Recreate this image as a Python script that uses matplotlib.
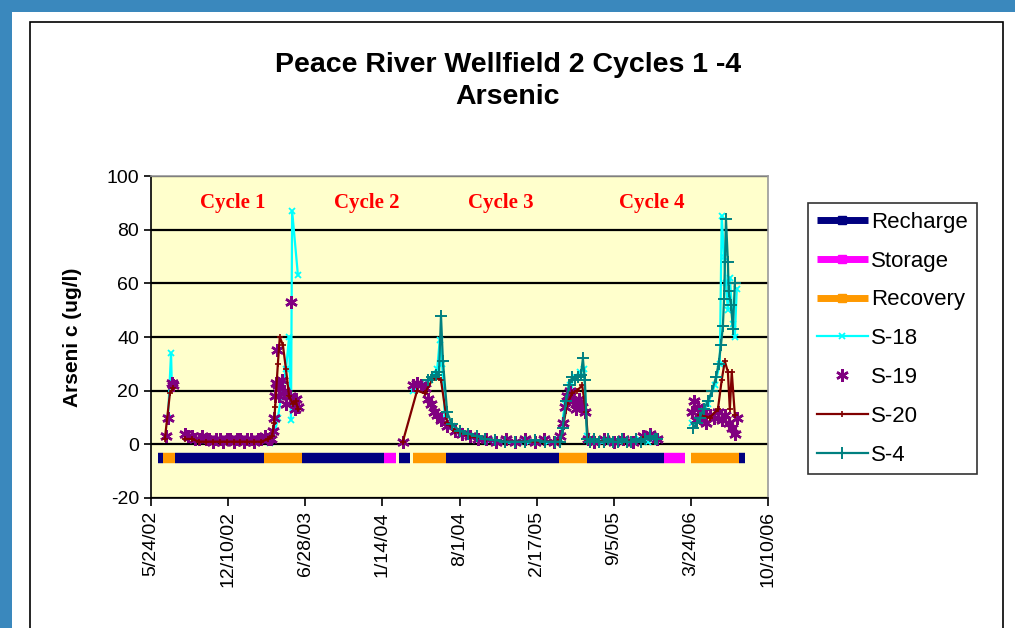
import datetime as dt
import numpy as np
import matplotlib
matplotlib.use("Agg")
import matplotlib.pyplot as plt
from matplotlib.lines import Line2D
from matplotlib.patches import Rectangle
from matplotlib.ticker import FuncFormatter, MultipleLocator

# dates are Excel serial days (1899-12-30 origin), as in the source sheet
recharge_start = [37418, 37462, 37792, 38043, 38165, 38531, 38924]
recharge_end = [37431, 37693, 38004, 38072, 38458, 38730, 38940]
storage_start = [38004, 38730]
storage_end = [38035, 38784]
recovery_start = [37431, 37693, 38079, 38458, 38800]
recovery_end = [37462, 37792, 38165, 38531, 38924]
phase_level = -5

s18_x = [37444, 37452, 37454, None,
         37709, 37716, 37722, 37729, 37740, 37750, 37758, 37763, 37766, 37781, None,
         38079, 38098, 38123, 38142, 38149, 38155, 38162, 38180, 38201, 38227,
         38252, 38278, 38303, 38328, 38354, 38379, 38404, 38430, 38455,
         38461, 38473, 38486, 38499, 38512, 38523, 38531,
         38545, 38569, 38593, 38617, 38641, 38665, 38689, 38712, None,
         38803, 38823, 38844, 38862, 38875, 38880, 38886, 38891, 38896, 38901, 38909, 38914, 38919]
s18_y = [10, 34, 22, None,
         0.5, 2, 5, 10, 20, 28, 40, 9, 87, 63, None,
         20, 22, 24, 28, 39, 30, 10, 7, 5, 3,
         2, 1.5, 1, 1, 1, 1, 1, 1, 1,
         2, 15, 22, 25, 27, 28, 3,
         1, 1, 1, 1, 1, 2, 1, 2, None,
         8, 10, 15, 22, 30, 85, 70, 60, 50, 62, 45, 40, 58]

s19_x = [37439, 37444, 37454, 37457,
         37488, 37497, 37506, 37515, 37524, 37533, 37542, 37551, 37560, 37569, 37578, 37587, 37596,
         37605, 37614, 37623, 37632, 37641, 37650, 37659, 37668, 37677, 37686, 37695, 37704, 37711,
         37716, 37719, 37722, 37724, 37727, 37729, 37732, 37740, 37745, 37750, 37760, 37763, 37768,
         37773, 37776, 37781,
         38053, 38079, 38090, 38100, 38110, 38118, 38126, 38134, 38142, 38152, 38168, 38188, 38206,
         38227, 38248, 38270, 38295, 38320, 38345, 38370, 38395, 38420, 38445,
         38461, 38468, 38473, 38479, 38486, 38494, 38502, 38510, 38518, 38525, 38533, 38550, 38575,
         38600, 38625, 38650, 38675, 38695, 38712,
         38803, 38808, 38813, 38818, 38823, 38831, 38839, 38849, 38860, 38870, 38880, 38888, 38898,
         38906, 38914, 38919]
s19_y = [3, 10, 23, 22,
         4, 3, 3, 2, 2, 3, 2, 2, 1, 2, 2, 1, 2,
         2, 1, 2, 2, 1, 2, 2, 1, 2, 2, 3, 2, 2,
         5, 10, 18, 23, 35, 22, 18, 24, 20, 15, 18, 53, 16,
         13, 17, 14,
         1, 22, 23, 22, 21, 17, 15, 12, 11, 9, 7, 5, 4,
         3, 2, 2, 1, 2, 1, 2, 1, 2, 1,
         3, 8, 14, 18, 20, 16, 13, 17, 14, 12, 2, 1, 2,
         1, 2, 1, 3, 4, 2,
         12, 16, 9, 14, 10, 12, 8, 11, 10, 12, 9, 11, 8,
         6, 4, 10]

s20_x = [37436, 37449, 37457, None,
         37488, 37506, 37524, 37542, 37560, 37578, 37596, 37614, 37632, 37650, 37668, 37686, 37704,
         37714, 37719, 37722, 37729, 37734, 37742, 37750, 37758, 37768, 37776, 37781, None,
         38053, 38090, 38110, 38129, 38142, 38152, 38168, 38188, 38227, 38270, 38320, 38370, 38420, 38455,
         38461, 38468, 38479, 38492, 38505, 38518, 38528, 38533, 38575, 38625, 38675, 38712, None,
         38823, 38849, 38870, 38880, 38888, 38896, 38901, 38906, 38914]
s20_y = [2, 19, 21, None,
         2, 2, 1, 1, 1, 1, 1, 1, 1, 1, 1, 1, 2,
         3, 8, 14, 30, 40, 37, 28, 18, 15, 16, 13, None,
         1, 20, 19, 24, 25, 24, 8, 5, 3, 2, 1, 1, 1, 1,
         1, 6, 15, 19, 20, 22, 12, 2, 1, 1, 2, 2, None,
         11, 10, 13, 24, 31, 27, 13, 27, 11]

s4_x = [38118, 38129, 38139, 38147, 38152, 38157, 38168, 38180, 38201, 38222, 38245, 38266, 38292,
        38318, 38344, 38370, 38396, 38422, 38448,
        38461, 38468, 38476, 38484, 38492, 38499, 38507, 38515, 38520, 38525, 38531,
        38538, 38550, 38562, 38574, 38586, 38598, 38610, 38622, 38634, 38646, 38658, 38670, 38682,
        38694, 38706, 38712, None,
        38805, 38816, 38823, 38833, 38844, 38855, 38865, 38872, 38878, 38883, 38886, 38891, 38896,
        38898, 38904, 38909, 38914]
s4_y = [24, 25, 26, 27, 48, 31, 12, 7.5, 5, 4, 3, 2, 1.5,
        1, 1, 1, 1.5, 1, 1,
        1, 6, 16, 22, 25, 24, 25, 26, 32, 24, 2,
        1, 2, 1, 1, 2, 1, 1, 2, 1, 1, 2, 1, 2,
        3, 2, 2, None,
        6, 8, 10, 13, 16, 20, 25, 30, 37, 44, 54, 84, 68,
        57, 52, 43, 60]

cycle_labels = ["Cycle 1", "Cycle 2", "Cycle 3", "Cycle 4"]
cycle_label_x = [37613, 37960, 38308, 38699]


def arr(v):
    return np.array(v, dtype=float)


def serial_label(v, pos):
    d = dt.datetime(1899, 12, 30) + dt.timedelta(days=float(v))
    return f"{d.month}/{d.day}/{d:%y}"


W, H = 1015, 628
fig = plt.figure(figsize=(W / 100, H / 100), dpi=100)
plt.rcParams['font.family'] = ['Liberation Sans', 'DejaVu Sans']
plt.rcParams['axes.unicode_minus'] = False

# page decoration: blue strips and chart frame
fig.patches.append(Rectangle((0, 1 - 12 / H), 1, 12 / H, transform=fig.transFigure,
                             facecolor='#3a88bd', edgecolor='none', zorder=0))
fig.patches.append(Rectangle((0, 0), 12 / W, 1, transform=fig.transFigure,
                             facecolor='#3a88bd', edgecolor='none', zorder=0))
fig.patches.append(Rectangle((30 / W, -0.05), 973 / W, 1.05 - 22 / H, transform=fig.transFigure,
                             facecolor='none', edgecolor='black', lw=1.2, zorder=1))

ax = fig.add_axes([151 / W, 1 - 498 / H, 617 / W, 322 / H])
ax.set_facecolor('#FFFFCC')

ax.hlines([phase_level] * len(recharge_start), recharge_start, recharge_end,
          colors='#000080', lw=7.5, capstyle='butt', zorder=3)
ax.hlines([phase_level] * len(storage_start), storage_start, storage_end,
          colors='#FF00FF', lw=7.5, capstyle='butt', zorder=3)
ax.hlines([phase_level] * len(recovery_start), recovery_start, recovery_end,
          colors='#FF9900', lw=7.5, capstyle='butt', zorder=3)

star = (6, 2, 0)
ax.plot(arr(s18_x), arr(s18_y), color='#00FFFF', lw=1.6, marker='x', ms=5, mew=1.3, zorder=4)
ax.plot(arr(s19_x), arr(s19_y), ls='none', color='#800080', marker=star, ms=9, mew=1.8, zorder=5)
ax.plot(arr(s20_x), arr(s20_y), color='#800000', lw=1.6, marker='+', ms=4, mew=1.2, zorder=6)
ax.plot(arr(s4_x), arr(s4_y), color='#008080', lw=1.6, marker='+', ms=8, mew=1.4, zorder=7)

for lab, x in zip(cycle_labels, cycle_label_x):
    ax.text(x, 90, lab, color='#FF0000', fontsize=15, fontweight='bold',
            family=['Liberation Serif', 'DejaVu Serif'], ha='center', va='center', zorder=8)

ax.set_xlim(37400, 39000)
ax.set_ylim(-20, 100)
ax.xaxis.set_major_locator(MultipleLocator(200))
ax.xaxis.set_major_formatter(FuncFormatter(serial_label))
ax.yaxis.set_major_locator(MultipleLocator(20))
ax.grid(axis='y', color='black', lw=1.6, zorder=2)
ax.set_axisbelow(True)
ax.tick_params(axis='x', labelrotation=90, labelsize=14, length=6, width=1.2, direction='out')
ax.tick_params(axis='y', labelsize=14, length=5, width=1.2, direction='out')
for side in ['left', 'bottom']:
    ax.spines[side].set_color('black')
    ax.spines[side].set_linewidth(1.2)
for side in ['top', 'right']:
    ax.spines[side].set_color('#999999')
    ax.spines[side].set_linewidth(1.2)

ax.set_ylabel("Arseni c (ug/l)", fontsize=15, fontweight='bold', labelpad=18)

fig.text(508 / W, 1 - 81 / H, "Peace River Wellfield 2 Cycles 1 -4\nArsenic",
         ha='center', va='center', fontsize=20.5, fontweight='bold', linespacing=1.3)

handles = [
    Line2D([], [], color='#000080', lw=5, marker='s', ms=6, solid_capstyle='butt'),
    Line2D([], [], color='#FF00FF', lw=5, marker='s', ms=6, solid_capstyle='butt'),
    Line2D([], [], color='#FF9900', lw=5, marker='s', ms=6, solid_capstyle='butt'),
    Line2D([], [], color='#00FFFF', lw=1.6, marker='x', ms=5, mew=1.3),
    Line2D([], [], ls='none', color='#800080', marker=star, ms=9, mew=1.8),
    Line2D([], [], color='#800000', lw=1.6, marker='+', ms=4, mew=1.2),
    Line2D([], [], color='#008080', lw=1.6, marker='+', ms=8, mew=1.4),
]
labels = ["Recharge", "Storage", "Recovery", "S-18", "S-19", "S-20", "S-4"]
leg = fig.legend(handles, labels, loc='upper left', bbox_to_anchor=(808 / W, 1 - 203 / H),
                 fontsize=16, frameon=True, fancybox=False, edgecolor='black',
                 handlelength=2.3, handletextpad=0.15, labelspacing=0.8,
                 borderpad=0.4, borderaxespad=0)
leg.get_frame().set_linewidth(1.2)

fig.savefig("out.png", dpi=100, facecolor='white')
